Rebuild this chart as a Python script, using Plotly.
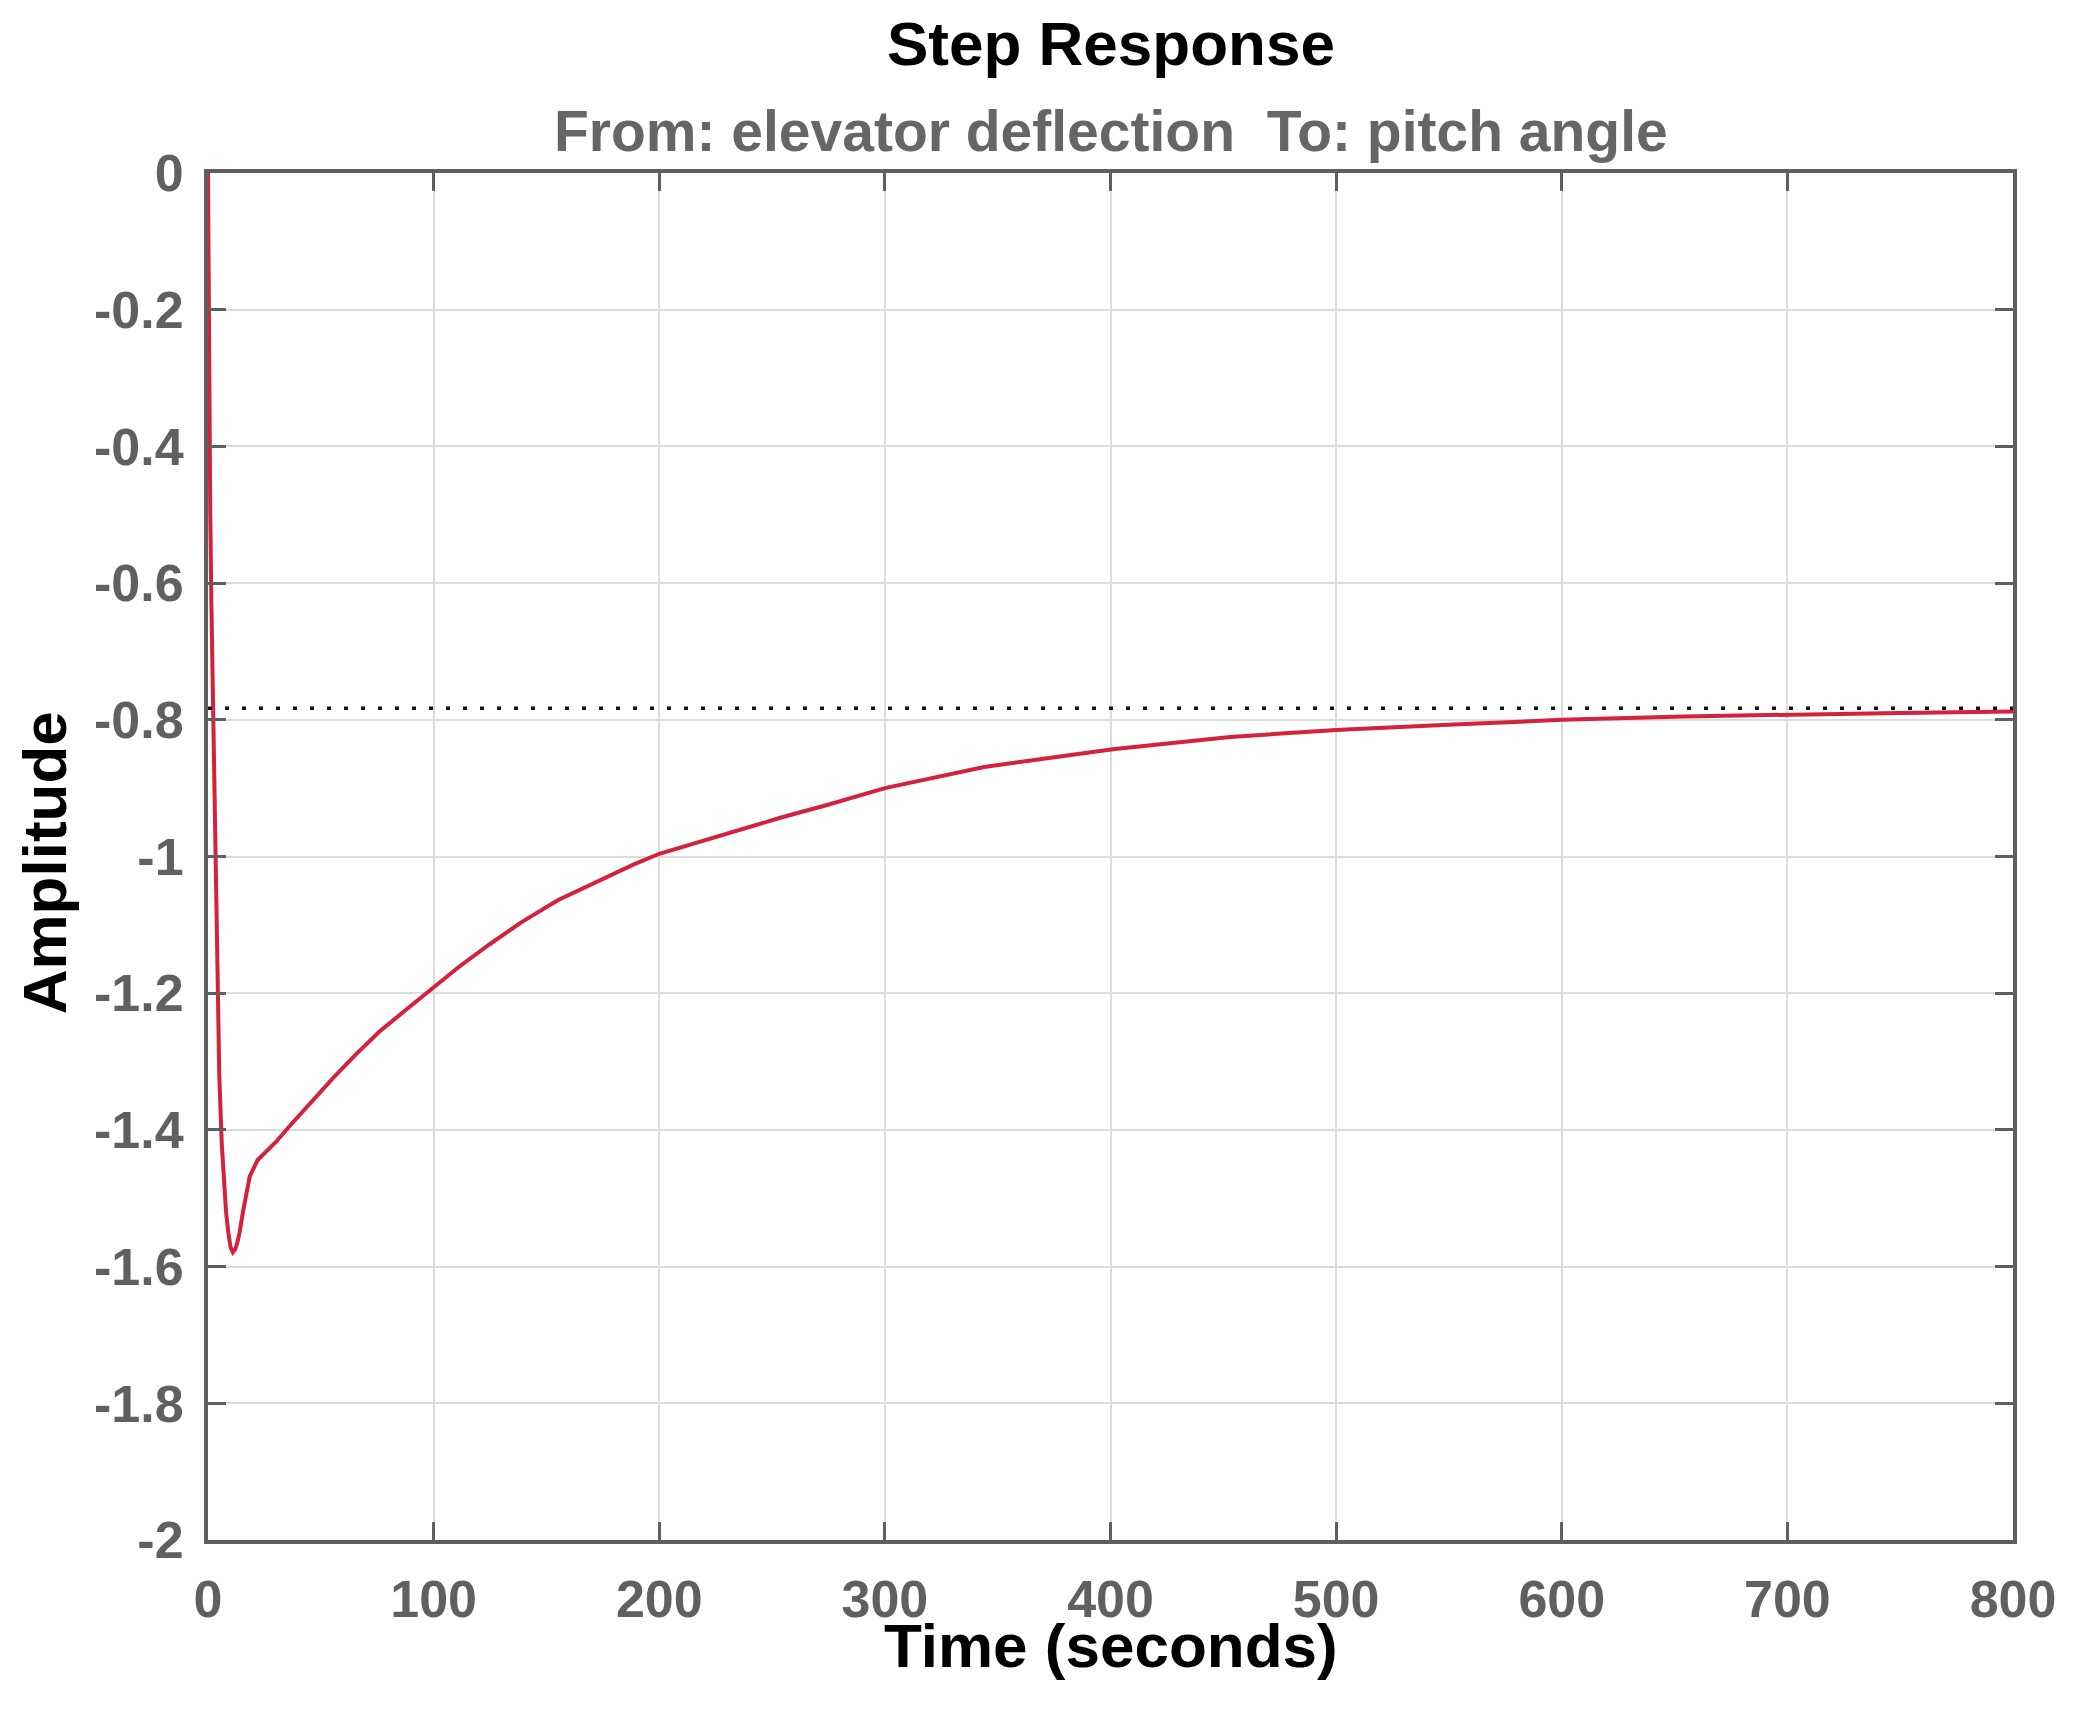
import plotly.graph_objects as go

# ---- data ----
time_s = [0, 0.5, 1, 1.5, 2.3, 3, 4.1, 5, 6.1, 7, 8, 9, 10, 11, 12, 13, 14,
          15.5, 17, 18.5, 22, 30, 36, 46, 56, 66, 76, 87.5, 100, 111, 125,
          139, 155, 174, 188.5, 200, 218, 234, 254, 274, 300, 344, 401, 453,
          500, 552, 600, 654, 701, 750, 800]
amplitude = [0, -0.30, -0.50, -0.63, -0.80, -0.95, -1.19, -1.32, -1.42,
             -1.48, -1.52, -1.55, -1.572, -1.579, -1.575, -1.565, -1.55,
             -1.52, -1.49, -1.468, -1.444, -1.418, -1.395, -1.358, -1.322,
             -1.288, -1.256, -1.225, -1.192, -1.162, -1.128, -1.096, -1.064,
             -1.034, -1.012, -0.996, -0.978, -0.962, -0.943, -0.925, -0.900,
             -0.869, -0.843, -0.825, -0.815, -0.807, -0.800, -0.795, -0.792,
             -0.790, -0.788]
steady_state = -0.783
time_range = [0, 800]

x_ticks = [0, 100, 200, 300, 400, 500, 600, 700, 800]
x_tick_labels = ["0", "100", "200", "300", "400", "500", "600", "700", "800"]
y_ticks = [0, -0.2, -0.4, -0.6, -0.8, -1.0, -1.2, -1.4, -1.6, -1.8, -2.0]
y_tick_labels = ["0", "-0.2", "-0.4", "-0.6", "-0.8", "-1", "-1.2", "-1.4",
                 "-1.6", "-1.8", "-2"]

title_text = "Step Response"
subtitle_text = "From: elevator deflection  To: pitch angle"
x_title = "Time (seconds)"
y_title = "Amplitude"

FONT = "Liberation Sans, Arial, Helvetica, sans-serif"
# page body has an 8px default margin; figure sized to fit the window
W, H = 2060, 1707
ML, MR, MT, MB = 200, 55, 165, 175
PW = W - ML - MR
PH = H - MT - MB

fig = go.Figure()
fig.add_trace(go.Scatter(
    x=time_s, y=amplitude, mode="lines",
    line=dict(color="#d4213d", width=4),
    showlegend=False, hoverinfo="x+y"))
fig.add_trace(go.Scatter(
    x=time_range, y=[steady_state, steady_state], mode="lines",
    line=dict(color="#111111", width=3.5, dash="4px,13px"),
    showlegend=False, hoverinfo="y"))

axis_common = dict(
    showline=True, linecolor="#5f5f5f", linewidth=4, mirror="allticks",
    ticks="inside", ticklen=18, tickwidth=3, tickcolor="#5f5f5f",
    showgrid=True, gridcolor="#dcdcdc", gridwidth=2, zeroline=False,
    tickfont=dict(family=FONT, size=52, color="#606060", weight="bold"),
)

fig.update_layout(
    width=W, height=H,
    margin=dict(l=ML, r=MR, t=MT, b=MB, pad=0),
    paper_bgcolor="white", plot_bgcolor="white",
    xaxis=dict(range=[0, 800], tickvals=x_ticks, ticktext=x_tick_labels,
               ticklabelstandoff=11, **axis_common),
    yaxis=dict(range=[-2, 0], tickvals=y_ticks, ticktext=y_tick_labels,
               ticklabelstandoff=10, **axis_common),
    annotations=[
        dict(text=title_text, xref="paper", yref="paper", x=0.5,
             y=1 + (MT - 36) / PH, xanchor="center", yanchor="middle",
             showarrow=False,
             font=dict(family=FONT, size=62, color="black", weight="bold")),
        dict(text=subtitle_text, xref="paper", yref="paper", x=0.5,
             y=1 + (MT - 123) / PH, xanchor="center", yanchor="middle",
             showarrow=False,
             font=dict(family=FONT, size=57, color="#666666", weight="bold")),
        dict(text=x_title, xref="paper", yref="paper", x=0.5,
             y=-106 / PH, xanchor="center", yanchor="middle",
             showarrow=False,
             font=dict(family=FONT, size=62, color="black", weight="bold")),
        dict(text=y_title, xref="paper", yref="paper", x=-164 / PW,
             y=0.495, xanchor="center", yanchor="middle", textangle=-90,
             showarrow=False,
             font=dict(family=FONT, size=62, color="black", weight="bold")),
    ],
)

fig.write_html("out.html")
